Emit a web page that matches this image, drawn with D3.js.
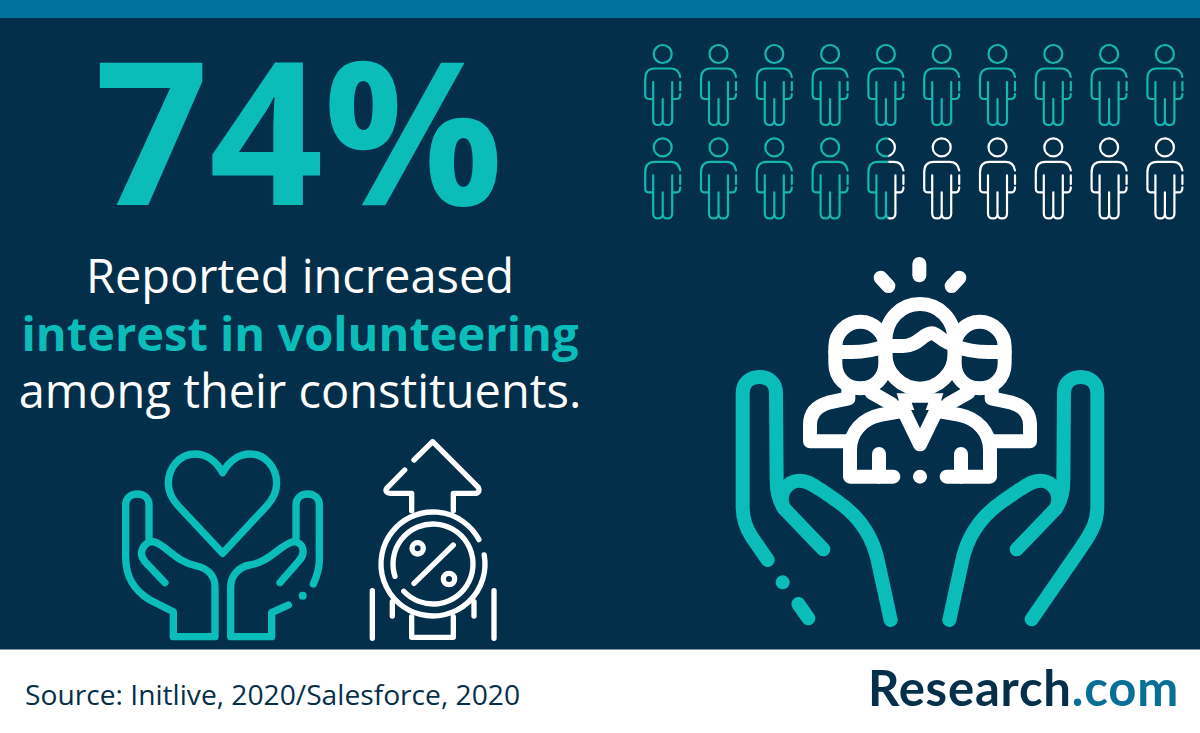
<!DOCTYPE html>
<html><head><meta charset="utf-8">
<script src="https://cdn.jsdelivr.net/npm/d3@7"></script>
<style>html,body{margin:0;padding:0;background:#fff}svg{display:block}</style>
</head><body><svg id="c" width="1200" height="733" viewBox="0 0 1200 733"></svg>
<script>
const percentLabel = "74%";
const headline = ["Reported increased", "interest in volunteering", "among their constituents."];
const sourceText = "Source: Initlive, 2020/Salesforce, 2020";
const logoParts = ["Research", ".com"];
const columns = [0,1,2,3,4,5,6,7,8,9];
const rows = [0,1];
const fullPeople = 14;
const partialPerson = 0.56;

const BG="#032f4a", TEAL="#0abdb8", PTEAL="#14b6af", TOPBAR="#00729b", WHITE="#ffffff", NAVY="#06304a";
const svg=d3.select("#c");
svg.append("rect").attr("width",1200).attr("height",733).attr("fill",WHITE);
svg.append("rect").attr("width",1200).attr("height",649.5).attr("fill",BG);
svg.append("rect").attr("width",1200).attr("height",18).attr("fill",TOPBAR);

const F="'Open Sans',sans-serif";
svg.append("text").text(percentLabel).attr("x",299).attr("y",205).attr("text-anchor","middle")
 .attr("font-family",F).attr("font-weight",700).attr("font-size",200).attr("fill",TEAL);
const lineY=d3.scalePoint().domain(d3.range(headline.length)).range([293,408]);
svg.selectAll("text.h").data(headline).join("text").attr("class","h").text(d=>d)
 .attr("x",300).attr("y",(d,i)=>lineY(i)).attr("text-anchor","middle").attr("font-family",F)
 .attr("font-size",47).attr("font-weight",(d,i)=>i==1?700:400).attr("fill",(d,i)=>i==1?TEAL:WHITE);
svg.append("text").text(sourceText).attr("x",25).attr("y",705).attr("font-family",F).attr("font-size",28.2).attr("fill",NAVY);
const logo=svg.append("text").attr("x",1179).attr("y",706).attr("text-anchor","end").attr("font-family","Lato,sans-serif").attr("font-size",49).attr("letter-spacing",0.8).attr("font-weight",700);
logo.append("tspan").text(logoParts[0]).attr("fill","#06304a");
logo.append("tspan").text(logoParts[1]).attr("fill","#0a6f96");

// people
const xP=d3.scalePoint().domain(columns).range([662.7,1164.9]);
const yP=d3.scalePoint().domain(rows).range([54,147.4]);
const personBody="M-5,14.5 L-8,14.5 Q-17.5,14.5 -17.5,25 L-17.5,41 Q-17.5,45 -13.5,45 L-9.5,45 L-9.5,28 M-9.5,45 L-9.5,66 Q-9.5,71 -4.5,71 Q0,71 0,66 L0,45 M0,66 Q0,71 4.5,71 Q9.5,71 9.5,66 L9.5,28 M9.5,45 L13.5,45 Q17.5,45 17.5,40 M17.5,36.5 L17.5,28 M17.5,23 Q16,14.5 8,14.5 L-5,14.5";
const defs=svg.append("defs");
const clip=(id,x0,x1)=>defs.append("clipPath").attr("id",id).append("rect").attr("x",x0).attr("y",-15).attr("width",x1-x0).attr("height",95);
function drawPerson(g,color){
 g.append("circle").attr("r",9).attr("fill","none").attr("stroke",color).attr("stroke-width",2.2);
 g.append("path").attr("d",personBody).attr("fill","none").attr("stroke",color).attr("stroke-width",2.2).attr("stroke-linecap","round").attr("stroke-linejoin","round");
}
const splitX=-20+40*partialPerson;
clip("pTeal",-25,splitX); clip("pWhite",splitX,25);
const cells=rows.flatMap(r=>columns.map(c=>({r,c,i:r*columns.length+c})));
const pg=svg.append("g").selectAll("g").data(cells).join("g").attr("transform",d=>`translate(${xP(d.c)},${yP(d.r)})`);
pg.each(function(d){
 const g=d3.select(this);
 if(d.i<fullPeople) drawPerson(g,PTEAL);
 else if(d.i>fullPeople) drawPerson(g,WHITE);
 else { drawPerson(g.append("g").attr("clip-path","url(#pTeal)"),PTEAL); drawPerson(g.append("g").attr("clip-path","url(#pWhite)"),WHITE); }
});

function iconLayer(ox,oy,sw){
 const g=svg.append("g").attr("transform",`translate(${ox},${oy}) scale(${1/3})`).attr("fill","none").attr("stroke-linecap","round").attr("stroke-linejoin","round");
 return {g,p:(d,c,w)=>g.append("path").attr("d",d).attr("stroke",c).attr("stroke-width",w||sw),
  dot:(x,y,r,c)=>g.append("circle").attr("cx",x).attr("cy",y).attr("r",r).attr("fill",c)};
}
// big hands + team
const B=iconLayer(720,250,42);
B.p("M143,930 L95,860 C75,830 68,805 68,770 L68,430 C68,398 90,381 118,381 C146,381 168,398 168,430 L170,690 C170,725 175,750 192,775 L310,898",TEAL);
B.p("M192,775 C172,735 200,692 240,692 C262,692 275,702 300,718 L350,752 C420,800 460,860 475,940 L512,1110",TEAL);
B.p("M235,1062 L265,1105",TEAL); B.dot(188,997,21,TEAL);
B.p("M935,1108 L1085,890 C1120,840 1132,810 1132,770 L1132,430 C1132,398 1110,381 1082,381 C1054,381 1032,398 1032,430 L1030,690 C1030,725 1025,750 1008,775 L890,898",TEAL);
B.p("M1008,775 C1028,735 1000,692 960,692 C938,692 925,702 900,718 L850,752 C780,800 740,860 725,940 L688,1110",TEAL);
// rays
B.p("M598,42 L598,76",WHITE); B.p("M482,83 L505,108",WHITE); B.p("M718,83 L695,108",WHITE);
// heads
B.p("M496,275 C496,205 545,162 600,162 C655,162 704,205 704,275 L704,312 C704,370 655,416 600,416 C545,416 496,370 496,312 Z",WHITE);
B.p("M496,288 L550,288 C595,288 608,250 635,250 C655,250 665,278 704,284",WHITE);
B.p("M346,290 C346,250 380,215 421,215 C462,215 496,250 496,290 L496,340 C496,385 462,415 421,415 C380,415 346,385 346,340 Z",WHITE);
B.p("M346,306 L395,306 C430,306 465,300 496,288",WHITE);
B.p("M854,290 C854,250 820,215 779,215 C738,215 704,250 704,290 L704,340 C704,385 738,415 779,415 C820,415 854,385 854,340 Z",WHITE);
B.p("M854,306 L805,306 C770,306 735,300 704,288",WHITE);
// back bodies
B.p("M385,415 L385,445 L325,458 C290,468 270,490 270,525 L270,574 L385,574",WHITE);
B.p("M815,415 L815,445 L875,458 C910,468 930,490 930,525 L930,574 L815,574",WHITE);
B.p("M455,428 L515,462 M745,428 L685,462",WHITE);
// centre body
B.p("M520,680 L390,680 L390,600 C390,545 430,505 480,495 L540,484",WHITE);
B.p("M680,680 L810,680 L810,600 C810,545 770,505 720,495 L660,484",WHITE);
B.p("M477,612 L477,680 M723,612 L723,680",WHITE);
B.p("M545,470 L600,583 L655,470",WHITE);
B.g.append("path").attr("d","M530,430 L670,430 L655,480 L545,480 Z").attr("fill",WHITE);
B.g.append("path").attr("d","M575,458 L625,458 L600,525 Z").attr("fill",BG);
B.dot(600,680,21,WHITE);

// small hands + heart
const H=iconLayer(110,430,22);
H.p("M338,128 C320,95 290,72 255,72 C210,72 175,112 175,160 C175,190 190,212 205,228 L338,370 L470,228 C485,212 500,190 500,160 C500,112 465,72 420,72 C385,72 356,95 338,128 Z",TEAL);
H.p("M117,325 L117,225 C117,205 102,192 82,192 C62,192 47,205 47,225 L47,380 C47,440 70,480 120,510 L190,545 L190,620 L315,620 L315,470 C315,440 295,415 260,408 C195,395 170,345 130,335 C105,335 80,365 105,395 L165,458",TEAL);
H.p("M535,525 L485,548 L485,620 L362,620 L362,470 C362,440 385,410 420,405 C480,395 510,345 550,335 C580,335 590,370 565,395 L510,458",TEAL);
H.p("M558,325 L558,225 C558,205 573,192 593,192 C613,192 628,205 628,225 L628,390 C628,420 620,440 610,462",TEAL);
H.dot(578,497,12,TEAL);

// arrow + percent
const A=iconLayer(110,430,16);
A.p("M912,90 L968,35 L1105,172 C1110,182 1105,190 1095,190 L1030,190 L1030,242",WHITE);
A.p("M884,120 L830,175 C825,183 830,190 840,190 L905,190 L905,242",WHITE);
const ring=(r,a0,a1)=>A.p(d3.arc()({innerRadius:r,outerRadius:r,startAngle:a0*Math.PI/180,endAngle:a1*Math.PI/180}),WHITE).attr("transform","translate(969,402)");
ring(156,80,422);
ring(120,-108,227);
A.p("M912,460 L1030,345",WHITE);
A.g.append("circle").attr("cx",923).attr("cy",355).attr("r",17).attr("stroke",WHITE).attr("stroke-width",16);
A.g.append("circle").attr("cx",1017).attr("cy",447).attr("r",17).attr("stroke",WHITE).attr("stroke-width",16);
A.p("M787,482 L787,625 M1152,482 L1152,625 M847,515 L847,558 M1092,515 L1092,558",WHITE);
A.p("M905,560 L905,622 L1030,622 L1030,560",WHITE);
</script></body></html>
